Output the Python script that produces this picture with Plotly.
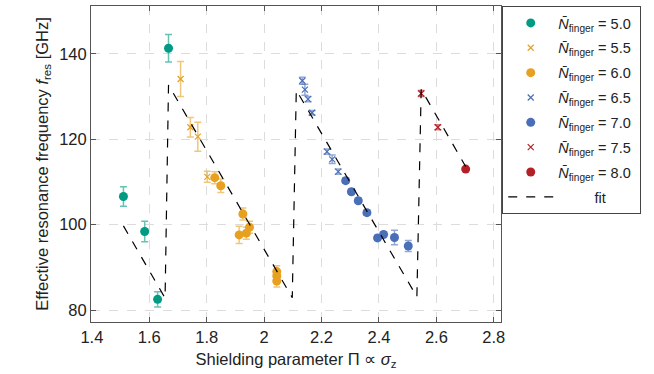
import plotly.graph_objects as go

# ---- data ----
x_50 = [1.510, 1.584, 1.629, 1.667]
y_50 = [106.6, 98.4, 82.5, 141.3]
e_50 = [2.3, 2.4, 1.8, 3.2]

x_55 = [1.709, 1.743, 1.769, 1.802]
y_55 = [134.1, 122.8, 120.6, 111.2]
e_55 = [4.1, 2.3, 3.4, 1.3]

x_60 = [1.828, 1.849, 1.926, 1.913, 1.938, 1.949, 2.044, 2.044, 2.044]
y_60 = [111.0, 109.1, 102.5, 97.6, 98.0, 99.4, 89.0, 88.0, 86.8]
e_60 = [1.4, 1.6, 1.4, 2.0, 1.4, 1.4, 1.4, 1.4, 1.4]

x_65 = [2.133, 2.142, 2.153, 2.167, 2.219, 2.237, 2.258]
y_65 = [133.7, 131.6, 129.4, 126.2, 117.1, 115.3, 112.4]
e_65 = [0.8, 1.3, 0.6, 0.5, 0.6, 1.0, 0.6]

x_70 = [2.284, 2.304, 2.328, 2.358, 2.395, 2.416, 2.454, 2.502]
y_70 = [110.3, 107.7, 105.6, 102.8, 96.9, 97.7, 97.0, 95.0]
e_70 = [0.6, 0.6, 0.6, 0.6, 0.6, 0.6, 1.7, 1.3]

x_75 = [2.547, 2.605]
y_75 = [130.7, 122.8]
e_75 = [0.7, 0.6]

x_80 = [2.702]
y_80 = [113.0]
e_80 = [0.0]

fit_x = [1.510, 1.655, 1.667, 2.098, 2.112, 2.532, 2.547, 2.702]
fit_y = [99.7, 82.8, 132.7, 82.9, 131.5, 83.1, 131.7, 113.6]

x_ticks = [1.4, 1.6, 1.8, 2.0, 2.2, 2.4, 2.6, 2.8]
x_tick_text = ["1.4", "1.6", "1.8", "2", "2.2", "2.4", "2.6", "2.8"]
y_ticks = [80, 100, 120, 140]

# ---- styling ----
TEAL = "rgb(0,155,130)"
ORANGE = "rgb(232,160,32)"
BLUE = "rgb(74,111,184)"
RED = "rgb(180,32,40)"

def light(c, a=0.6):
    return c.replace("rgb(", "rgba(").replace(")", f",{a})")

FONT = "Liberation Sans, Arial, sans-serif"
FS = 16.5

def lab(v):
    return f"<i>N̄</i><sub>finger</sub> = {v}\u00a0"

series = [
    (x_50, y_50, e_50, TEAL, "circle", 9, "5.0"),
    (x_55, y_55, e_55, ORANGE, "x-thin", 6, "5.5"),
    (x_60, y_60, e_60, ORANGE, "circle", 9, "6.0"),
    (x_65, y_65, e_65, BLUE, "x-thin", 6, "6.5"),
    (x_70, y_70, e_70, BLUE, "circle", 9, "7.0"),
    (x_75, y_75, e_75, RED, "x-thin", 6, "7.5"),
    (x_80, y_80, e_80, RED, "circle", 9, "8.0"),
]

fig = go.Figure()
for i, (xs, ys, es, col, sym, sz, name) in enumerate(series):
    marker = dict(color=col, symbol=sym, size=sz)
    if sym == "x-thin":
        marker["line"] = dict(color=col, width=1.2)
    fig.add_trace(go.Scatter(
        x=xs, y=ys, mode="markers", name=lab(name),
        legendgroup=f"g{i}",
        marker=marker,
        error_y=dict(type="data", array=es, visible=True,
                     color=light(col), thickness=1.5, width=3.5),
    ))

fig.add_trace(go.Scatter(
    x=fit_x, y=fit_y, mode="lines", legendgroup="fit",
    name="\u00a0\u00a0\u00a0\u00a0\u00a0\u00a0\u00a0\u00a0\u00a0fit",
    line=dict(color="black", width=1.2, dash="dash"),
))

axis_common = dict(
    showline=True, linecolor="#555", linewidth=1, mirror="ticks",
    ticks="inside", ticklen=5, tickcolor="#555",
    showgrid=True, gridcolor="#dcdcdc", griddash="dash", gridwidth=1,
    zeroline=False, automargin=False,
    tickfont=dict(family=FONT, size=FS, color="#222"),
    title_font=dict(family=FONT, size=FS, color="#222"),
)

fig.update_xaxes(
    range=[1.397, 2.825], tickvals=x_ticks, ticktext=x_tick_text,
    title_text="Shielding parameter Π ∝ <i>σ</i><sub>z</sub>",
    title_standoff=8,
    **axis_common,
)
fig.update_yaxes(
    range=[77.2, 151.2], tickvals=y_ticks,
    title_text="Effective resonance frequency <i>f</i><sub>res</sub> [GHz]",
    title_standoff=6,
    **axis_common,
)

fig.update_layout(
    width=654, height=374,
    margin=dict(l=91, r=153, t=6, b=52, autoexpand=False),
    plot_bgcolor="white", paper_bgcolor="white",
    font=dict(family=FONT, size=FS, color="#222"),
    showlegend=True,
    legend=dict(
        x=1.003, y=1.0, xanchor="left", yanchor="top",
        bordercolor="#444", borderwidth=1, bgcolor="white",
        font=dict(family=FONT, size=14.5, color="#222"),
        tracegroupgap=3, itemwidth=45,
    ),
)

fig.write_html(
    "out.html",
    config={"displayModeBar": False},
    post_script="document.body.style.margin='0';document.body.style.padding='0';",
)
